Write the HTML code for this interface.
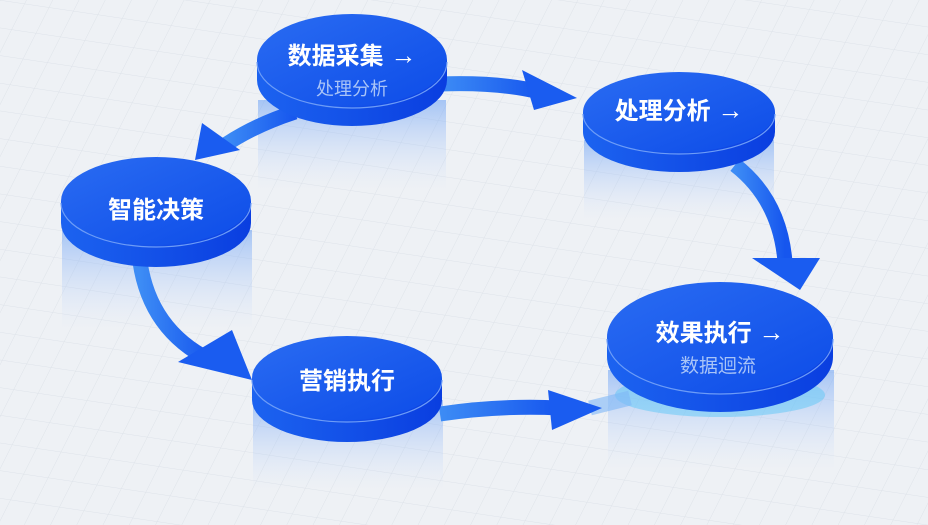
<!DOCTYPE html>
<html><head><meta charset="utf-8"><style>
html,body{margin:0;padding:0;width:928px;height:525px;overflow:hidden;background:#eef1f5}
svg{display:block}
text{font-family:"Liberation Sans","Noto Sans CJK SC",sans-serif;font-weight:bold}
</style></head><body>
<svg width="928" height="525" viewBox="0 0 928 525" xmlns="http://www.w3.org/2000/svg">
<defs>
<pattern id="g" width="26" height="26" patternUnits="userSpaceOnUse" patternTransform="skewX(-20) rotate(8)">
<path d="M26 0H0V26" fill="none" stroke="#dde2e9" stroke-width="1"/>
</pattern>
<linearGradient id="top" x1="0" y1="0" x2="1" y2="1"><stop offset="0" stop-color="#2a6cf2"/><stop offset="1" stop-color="#0d4ce8"/></linearGradient>
<linearGradient id="side" x1="0" y1="0" x2="1" y2="0"><stop offset="0" stop-color="#1c63f0"/><stop offset="1" stop-color="#0a3ee0"/></linearGradient>
<linearGradient id="refl" x1="0" y1="0" x2="0" y2="1"><stop offset="0" stop-color="#6aa0f5" stop-opacity="0.55"/><stop offset="1" stop-color="#c8dafa" stop-opacity="0"/></linearGradient>
<linearGradient id="arr" x1="0" y1="0" x2="1" y2="0"><stop offset="0" stop-color="#3d8cf5"/><stop offset="1" stop-color="#1656ee"/></linearGradient>
</defs>
<rect width="928" height="525" fill="#eef1f5"/>
<rect width="928" height="525" fill="url(#g)"/>

<rect x="258" y="100" width="188" height="90" fill="url(#refl)"/>
<rect x="584" y="140" width="190" height="80" fill="url(#refl)"/>
<rect x="62" y="230" width="190" height="100" fill="url(#refl)"/>
<rect x="253" y="400" width="190" height="90" fill="url(#refl)"/>
<rect x="608" y="370" width="226" height="100" fill="url(#refl)"/>
<ellipse cx="720" cy="395" rx="105" ry="22" fill="#5ec8f8" opacity="0.5"/>

<g fill="none" stroke="url(#arr)" stroke-width="15">
<path d="M440 84 Q500 82 540 92"/>
<path d="M295 112 Q255 125 225 145"/>
<path d="M735 165 Q780 200 785 262"/>
<path d="M140 262 Q150 330 210 360"/>
<path d="M440 414 Q500 405 560 408"/>
<path d="M590 408 L630 398" stroke="#7fb8f7" stroke-opacity="0.6"/>
</g>
<g fill="#1a5cf0">
<polygon points="577,98 522,70 534,110"/>
<polygon points="195,160 202,123 240,150"/>
<polygon points="800,290 752,258 820,258"/>
<polygon points="252,380 178,362 232,330"/>
<polygon points="602,408 548,390 552,430"/>
</g>

<g>
<path d="M257 60 v20 a95 46 0 0 0 190 0 v-20 z" fill="url(#side)"/>
<ellipse cx="352" cy="60" rx="95" ry="46" fill="url(#top)"/>
<path d="M257 62 a95 46 0 0 0 190 0" fill="none" stroke="#6d9cf7" stroke-width="1.2"/>
<text x="352" y="64" fill="#fff" font-size="24" text-anchor="middle">数据采集 <tspan font-size="26">→</tspan></text>
<text x="352" y="95" fill="#a9c4f7" font-size="18" text-anchor="middle" style="font-weight:normal">处理分析</text>
</g>
<g>
<path d="M583 112 v20 a96 40 0 0 0 192 0 v-20 z" fill="url(#side)"/>
<ellipse cx="679" cy="112" rx="96" ry="40" fill="url(#top)"/>
<path d="M583 114 a96 40 0 0 0 192 0" fill="none" stroke="#6d9cf7" stroke-width="1.2"/>
<text x="679" y="119" fill="#fff" font-size="24" text-anchor="middle">处理分析 <tspan font-size="26">→</tspan></text>
</g>
<g>
<path d="M61 201 v22 a95 44 0 0 0 190 0 v-22 z" fill="url(#side)"/>
<ellipse cx="156" cy="201" rx="95" ry="44" fill="url(#top)"/>
<path d="M61 203 a95 44 0 0 0 190 0" fill="none" stroke="#6d9cf7" stroke-width="1.2"/>
<text x="156" y="218" fill="#fff" font-size="24" text-anchor="middle">智能决策</text>
</g>
<g>
<path d="M252 378 v22 a95 42 0 0 0 190 0 v-22 z" fill="url(#side)"/>
<ellipse cx="347" cy="378" rx="95" ry="42" fill="url(#top)"/>
<path d="M252 380 a95 42 0 0 0 190 0" fill="none" stroke="#6d9cf7" stroke-width="1.2"/>
<text x="347" y="389" fill="#fff" font-size="24" text-anchor="middle">营销执行</text>
</g>
<g>
<path d="M607 337 v20 a113 55 0 0 0 226 0 v-20 z" fill="url(#side)"/>
<ellipse cx="720" cy="337" rx="113" ry="55" fill="url(#top)"/>
<path d="M607 339 a113 55 0 0 0 226 0" fill="none" stroke="#6d9cf7" stroke-width="1.2"/>
<text x="720" y="341" fill="#fff" font-size="24" text-anchor="middle">效果执行 <tspan font-size="26">→</tspan></text>
<text x="718" y="372" fill="#a9c4f7" font-size="19" text-anchor="middle" style="font-weight:normal">数据迴流</text>
</g>
</svg>
</body></html>
